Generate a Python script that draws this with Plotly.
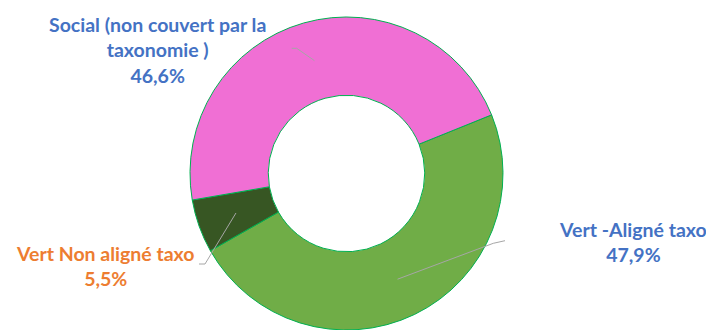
import math
import plotly.graph_objects as go

# Répartition des encours
categories = ["Vert -Aligné taxo", "Vert Non aligné taxo", "Social (non couvert par la taxonomie )"]
values = [47.9, 5.5, 46.6]
label_texts = ["Vert -Aligné taxo<br>47,9%", "Vert Non aligné taxo<br>5,5%",
               "Social (non couvert par la<br>taxonomie )<br>46,6%"]

colors = ["#70AD47", "#375623", "#F06FD4"]
label_colors = ["#4472C4", "#ED7D31", "#4472C4"]

W, H = 706, 330
CX, CY, R = 346.5, 173.5, 156.5
HOLE = 0.5
ROTATION = 68

fig = go.Figure()
fig.add_trace(go.Pie(
    labels=categories, values=values, sort=False, direction="clockwise",
    rotation=ROTATION, hole=HOLE, textinfo="none", hoverinfo="label+percent",
    marker=dict(colors=colors, line=dict(color="#00B050", width=1)),
    domain=dict(x=[(CX - R) / W, (CX + R) / W], y=[0, (H - (CY - R)) / H]),
    showlegend=False,
))

# Leader lines: from the label elbow to the middle of the ring at each slice's mid-angle
total = sum(values)
elbows = [[(505, 240.7), (493.3, 243.3)], [(199, 264), (205, 264)], [(291.7, 48.3), (296.7, 48.3)]]
label_pos = [(633, 242), (105, 266), (157, 50)]
start = ROTATION
ring_mid = R * (1 + HOLE) / 2
for i, v in enumerate(values):
    span = v / total * 360
    mid = math.radians(start + span / 2)
    start += span
    hx = CX + ring_mid * math.sin(mid)
    hy = CY - ring_mid * math.cos(mid)
    pts = elbows[i] + [(hx, hy)]
    path = "M " + " L ".join(f"{x:.2f},{y:.2f}" for x, y in pts)
    fig.add_shape(type="path", path=path, xref="x", yref="y", layer="above",
                  line=dict(color="#A6A6A6", width=1))
    fig.add_annotation(x=label_pos[i][0], y=label_pos[i][1], xref="x", yref="y",
                       text=label_texts[i], showarrow=False, align="center",
                       font=dict(family="Lato", size=19.5, color=label_colors[i], weight="bold"))

fig.update_layout(
    width=W, height=H, margin=dict(l=0, r=0, t=0, b=0),
    paper_bgcolor="white", plot_bgcolor="rgba(0,0,0,0)",
    xaxis=dict(range=[0, W], visible=False, fixedrange=True),
    yaxis=dict(range=[H, 0], visible=False, fixedrange=True),
)

fig.write_html("out.html")
